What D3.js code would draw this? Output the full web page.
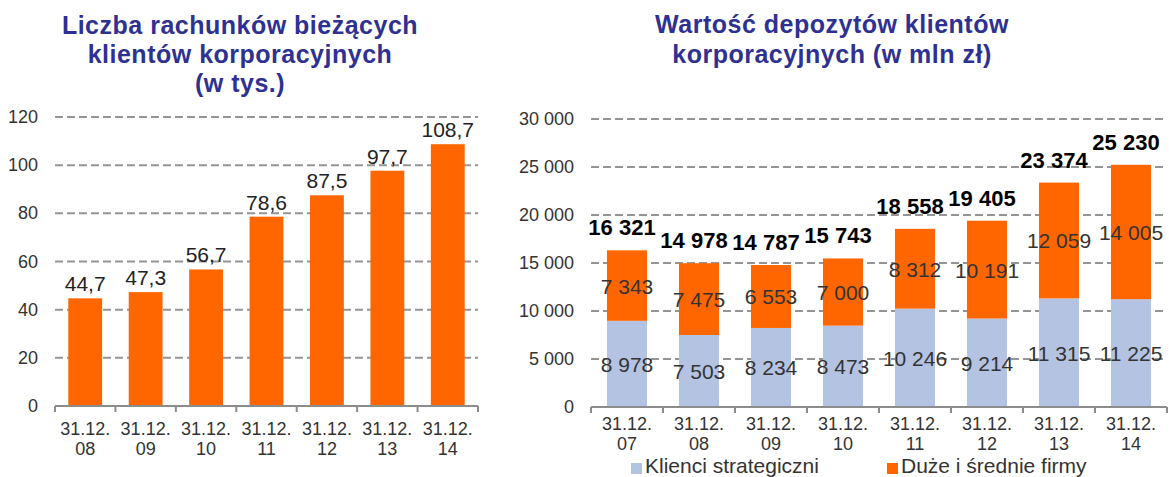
<!DOCTYPE html>
<html lang="pl">
<head>
<meta charset="UTF-8">
<title>Klienci korporacyjni</title>
<script src="https://d3js.org/d3.v7.min.js"></script>
<style>
  body { margin: 0; background: #fff; }
  svg { font-family: Arial, "Liberation Sans", sans-serif; }
  .grid line { stroke: #959595; stroke-width: 2; stroke-dasharray: 8 4; }
</style>
</head>
<body>
<div id="chart"></div>
<script>
// left chart: number of current accounts (thousands)
var accYears = ["08", "09", "10", "11", "12", "13", "14"];
var accValues = [44.7, 47.3, 56.7, 78.6, 87.5, 97.7, 108.7];
var accTicks = [0, 20, 40, 60, 80, 100, 120];

// right chart: deposits (mln zł)
var depYears = ["07", "08", "09", "10", "11", "12", "13", "14"];
var strategic = [8978, 7503, 8234, 8473, 10246, 9214, 11315, 11225];
var bigMid = [7343, 7475, 6553, 7000, 8312, 10191, 12059, 14005];
var totalLabels = ["16 321", "14 978", "14 787", "15 743", "18 558", "19 405", "23 374", "25 230"];
var depTicks = [0, 5000, 10000, 15000, 20000, 25000, 30000];
var seriesNames = ["Klienci strategiczni", "Duże i średnie firmy"];

var blue = "#b4c3e2", orange = "#ff6600", titleColor = "#2e3192";

var svg = d3.select("#chart").append("svg")
  .attr("width", 1169)
  .attr("height", 477);

// thousands separated with a space, decimals with a comma
var fmtSpace = function(v) { return d3.format(",")(v).replace(/,/g, " "); };
var fmtComma = function(v) { return d3.format(".1f")(v).replace(".", ","); };

function drawTitle(lines, cx, y0, step) {
  svg.append("g").selectAll("text")
    .data(lines)
    .enter().append("text")
      .attr("x", cx)
      .attr("y", function(d, i) { return y0 + i * step; })
      .attr("text-anchor", "middle")
      .attr("font-size", "25px")
      .attr("font-weight", "bold")
      .attr("letter-spacing", "0.5px")
      .attr("fill", titleColor)
      .text(function(d) { return d; });
}

// categories axis: ticks between bands, two-line labels
function drawXAxis(g, x, years, y0, dy) {
  g.append("line")
    .attr("x1", x.range()[0]).attr("x2", x.range()[1])
    .attr("y1", y0).attr("y2", y0)
    .attr("stroke", "#8c8c8c").attr("stroke-width", 2);
  var edges = d3.range(years.length + 1).map(function(i) { return x.range()[0] + i * x.step(); });
  g.selectAll(".tk").data(edges).enter().append("line")
    .attr("x1", function(d) { return d; }).attr("x2", function(d) { return d; })
    .attr("y1", y0).attr("y2", y0 + 6)
    .attr("stroke", "#8c8c8c").attr("stroke-width", 2);
  var lab = g.selectAll(".xl").data(years).enter().append("text")
    .attr("text-anchor", "middle")
    .attr("font-size", "18px")
    .attr("fill", "#333");
  lab.append("tspan")
    .attr("x", function(d) { return x(d) + x.bandwidth() / 2; })
    .attr("y", y0 + dy)
    .text("31.12.");
  lab.append("tspan")
    .attr("x", function(d) { return x(d) + x.bandwidth() / 2; })
    .attr("y", y0 + dy + 20)
    .text(function(d) { return d; });
}

function drawYAxis(g, y, ticks, x0, x1, fmt) {
  g.append("g").attr("class", "grid")
    .selectAll("line").data(ticks.slice(1)).enter().append("line")
      .attr("x1", x0).attr("x2", x1)
      .attr("y1", function(d) { return y(d); })
      .attr("y2", function(d) { return y(d); });
  g.selectAll(".yl").data(ticks).enter().append("text")
    .attr("x", x0 - 17)
    .attr("y", function(d) { return y(d) + 6; })
    .attr("text-anchor", "end")
    .attr("font-size", "18px")
    .attr("fill", "#333")
    .text(fmt);
}

// ---- left chart
drawTitle(["Liczba rachunków bieżących", "klientów korporacyjnych", "(w tys.)"], 240, 34, 29);

var gL = svg.append("g");
var xL = d3.scaleBand().domain(accYears).range([55, 478]).paddingInner(0.44).paddingOuter(0.22);
var yL = d3.scaleLinear().domain([0, 120]).range([406, 117]);

drawYAxis(gL, yL, accTicks, 55, 478, function(d) { return d; });

gL.selectAll(".bar").data(accValues).enter().append("rect")
  .attr("x", function(d, i) { return xL(accYears[i]); })
  .attr("y", function(d) { return yL(d); })
  .attr("width", xL.bandwidth())
  .attr("height", function(d) { return yL(0) - yL(d); })
  .attr("fill", orange);

gL.selectAll(".val").data(accValues).enter().append("text")
  .attr("x", function(d, i) { return xL(accYears[i]) + xL.bandwidth() / 2; })
  .attr("y", function(d) { return yL(d) - 7; })
  .attr("text-anchor", "middle")
  .attr("font-size", "21px")
  .attr("fill", "#222")
  .text(fmtComma);

drawXAxis(gL, xL, accYears, 406, 29);

// ---- right chart
drawTitle(["Wartość depozytów klientów", "korporacyjnych (w mln zł)"], 832, 33, 30);

var gR = svg.append("g");
var xR = d3.scaleBand().domain(depYears).range([591, 1167]).paddingInner(0.444).paddingOuter(0.222);
var yR = d3.scaleLinear().domain([0, 30000]).range([407, 119]);

drawYAxis(gR, yR, depTicks, 591, 1167, fmtSpace);

var rows = depYears.map(function(y, i) { return { year: y, s: strategic[i], b: bigMid[i] }; });
var stacked = d3.stack().keys(["s", "b"])(rows);
var colors = [blue, orange];

stacked.forEach(function(layer, li) {
  var lg = gR.append("g");
  lg.selectAll("rect").data(layer).enter().append("rect")
    .attr("x", function(d) { return xR(d.data.year); })
    .attr("y", function(d) { return yR(d[1]); })
    .attr("width", xR.bandwidth())
    .attr("height", function(d) { return yR(d[0]) - yR(d[1]); })
    .attr("fill", colors[li]);
  lg.selectAll("text").data(layer).enter().append("text")
    .attr("x", function(d) { return xR(d.data.year) + xR.bandwidth() / 2; })
    .attr("y", function(d) { return (yR(d[0]) + yR(d[1])) / 2 + 8; })
    .attr("text-anchor", "middle")
    .attr("font-size", "21px")
    .attr("fill", "#333")
    .text(function(d) { return fmtSpace(d[1] - d[0]); });
});

gR.selectAll(".tot").data(stacked[1]).enter().append("text")
  .attr("x", function(d) { return xR(d.data.year) + xR.bandwidth() / 2 - 5; })
  .attr("y", function(d) { return yR(d[1]) - 15; })
  .attr("text-anchor", "middle")
  .attr("font-size", "22px")
  .attr("font-weight", "bold")
  .attr("fill", "#000")
  .text(function(d, i) { return totalLabels[i]; });

drawXAxis(gR, xR, depYears, 407, 23);

// legend
var legX = [631, 887];
var leg = svg.append("g").selectAll("g").data(seriesNames).enter().append("g")
  .attr("transform", function(d, i) { return "translate(" + legX[i] + ",463)"; });
leg.append("rect").attr("width", 11).attr("height", 11)
  .attr("fill", function(d, i) { return colors[i]; });
leg.append("text").attr("x", 14).attr("y", 10)
  .attr("font-size", "21px").attr("fill", "#333")
  .text(function(d) { return d; });
</script>
</body>
</html>
